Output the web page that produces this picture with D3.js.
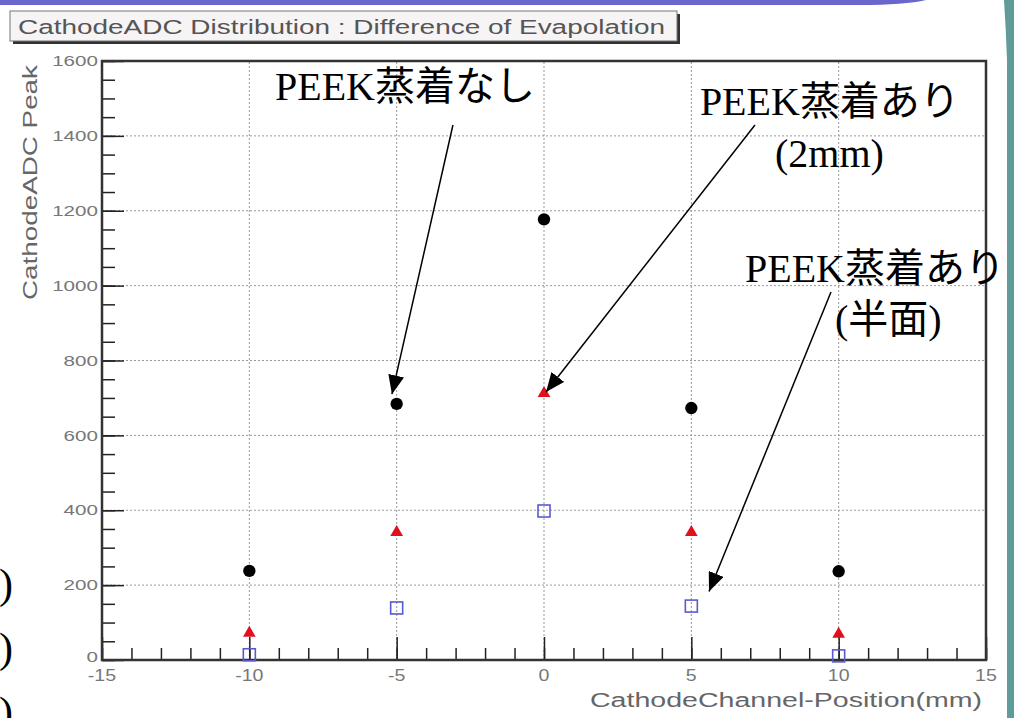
<!DOCTYPE html>
<html>
<head>
<meta charset="utf-8">
<script src="https://d3js.org/d3.v7.min.js"></script>
<style>
  body { margin: 0; background: #fff; }
  svg { display: block; }
</style>
</head>
<body>
<svg id="chart"></svg>
<script>
// values
var positions = [-10, -5, 0, 5, 10]
var noEvap = [238, 684, 1177, 673, 237]      // PEEK蒸着なし, black dots
var evap2mm = [72, 341, 712, 341, 69]        // PEEK蒸着あり (2mm), red triangles
var evapHalf = [14, 139, 398, 144, 11]       // PEEK蒸着あり (半面), blue open squares

var yTicks = [0, 200, 400, 600, 800, 1000, 1200, 1400, 1600]
var xTicks = [-15, -10, -5, 0, 5, 10, 15]

var titleText = "CathodeADC Distribution : Difference of Evapolation"
var xTitle = "CathodeChannel-Position(mm)"
var yTitle = "CathodeADC Peak"

// annotation texts, placed in data units
var notes = [
  {lines: ["PEEK蒸着なし"], at: [[-9.13, 1496]], from: [-3.09, 1429], to: [-5.16, 710]},
  {lines: ["PEEK蒸着あり", "(2mm)"], at: [[5.29, 1456], [7.84, 1317]], from: [7.16, 1429], to: [0.07, 716]},
  {lines: ["PEEK蒸着あり", "(半面)"], at: [[6.82, 1010], [9.875, 873]], from: [9.74, 983], to: [5.6, 183]}
]

var width = 1014
var height = 718

var dimensions = {
  margin: {top: 61, bottom: 58, left: 102, right: 28}
}

var svg = d3.select("#chart")
  .attr("width", width)
  .attr("height", height)

var xScale = d3.scaleLinear()
  .domain([-15, 15])
  .range([dimensions.margin.left, width - dimensions.margin.right])

var yScale = d3.scaleLinear()
  .domain([0, 1600])
  .range([height - dimensions.margin.bottom, dimensions.margin.top])

var x0 = xScale.range()[0], x1 = xScale.range()[1]
var y0 = yScale.range()[0], y1 = yScale.range()[1]

function stretch(sel, k) {
  sel.each(function() {
    var w = this.getComputedTextLength()
    d3.select(this).attr("textLength", w * k).attr("lengthAdjust", "spacingAndGlyphs")
  })
}

// slide decoration: purple band on top, teal bar on the right
svg.append("path")
  .attr("d", "M0,0 H926 Q905,5 860,5 H0 Z")
  .attr("fill", "#6a66cc")
svg.append("path")
  .attr("d", "M1004,0 Q1006,30 1007,60 V718 H1014 V0 Z")
  .attr("fill", "#5f9b98")

// cut off ")" from the slide text on the left
svg.selectAll(".paren")
  .data([598, 662, 726])
  .enter().append("text")
  .attr("x", -1)
  .attr("y", d => d)
  .attr("font-family", "Liberation Serif, serif")
  .attr("font-size", 42)
  .attr("fill", "#000")
  .text(")")

// title box
svg.append("rect")
  .attr("x", 13).attr("y", 14)
  .attr("width", 667).attr("height", 30)
  .attr("fill", "#333")
svg.append("rect")
  .attr("x", 10).attr("y", 11)
  .attr("width", 667).attr("height", 30)
  .attr("fill", "#f6f4f4")
  .attr("stroke", "#777")
  .attr("stroke-width", 1)
svg.append("text")
  .attr("x", 18)
  .attr("y", 34)
  .attr("font-family", "Liberation Sans, Arial, sans-serif")
  .attr("font-size", 20)
  .attr("fill", "#555")
  .attr("textLength", 647)
  .attr("lengthAdjust", "spacingAndGlyphs")
  .text(titleText)

// plot background
svg.append("rect")
  .attr("x", x0).attr("y", y1)
  .attr("width", x1 - x0).attr("height", y0 - y1)
  .attr("fill", "#fff")

// dotted grid at major ticks
svg.append("g")
  .selectAll("line")
  .data(xTicks.slice(1, -1))
  .enter().append("line")
  .attr("x1", d => xScale(d)).attr("x2", d => xScale(d))
  .attr("y1", y0).attr("y2", y1)
  .attr("stroke", "#999")
  .attr("stroke-dasharray", "2,2")
svg.append("g")
  .selectAll("line")
  .data(yTicks.slice(1, -1))
  .enter().append("line")
  .attr("x1", x0).attr("x2", x1)
  .attr("y1", d => yScale(d)).attr("y2", d => yScale(d))
  .attr("stroke", "#999")
  .attr("stroke-dasharray", "2,2")

// axes, ticks drawn inward
var xAxisGen = d3.axisTop(xScale)
  .tickValues(d3.range(-15, 16, 1))
  .tickSize(12)
  .tickFormat("")
var xAxis = svg.append("g")
  .call(xAxisGen)
  .attr("transform", `translate(0,${y0})`)
var xMajor = svg.append("g")
  .call(d3.axisTop(xScale).tickValues(xTicks).tickSize(23).tickFormat(""))
  .attr("transform", `translate(0,${y0})`)

var yAxisGen = d3.axisRight(yScale)
  .tickValues(d3.range(0, 1601, 50))
  .tickSize(13)
  .tickFormat("")
var yAxis = svg.append("g")
  .call(yAxisGen)
  .attr("transform", `translate(${x0},0)`)
var yMajor = svg.append("g")
  .call(d3.axisRight(yScale).tickValues(yTicks).tickSize(22).tickFormat(""))
  .attr("transform", `translate(${x0},0)`)

svg.selectAll(".domain").remove()
svg.selectAll(".tick line")
  .attr("stroke", "#222")
  .attr("stroke-width", 1.5)

// frame
svg.append("rect")
  .attr("x", x0).attr("y", y1)
  .attr("width", x1 - x0).attr("height", y0 - y1)
  .attr("fill", "none")
  .attr("stroke", "#333")
  .attr("stroke-width", 2.5)

// tick labels
svg.append("g")
  .selectAll("text")
  .data(yTicks)
  .enter().append("text")
  .attr("x", x0 - 4)
  .attr("y", d => yScale(d) - (d == 0 ? 3 : 0))
  .attr("dy", "0.36em")
  .attr("text-anchor", "end")
  .attr("font-family", "Liberation Sans, Arial, sans-serif")
  .attr("font-size", 14.5)
  .attr("fill", "#777")
  .text(d => d)
  .call(stretch, 1.42)

svg.append("g")
  .selectAll("text")
  .data(xTicks)
  .enter().append("text")
  .attr("x", d => xScale(d))
  .attr("y", y0 + 21)
  .attr("text-anchor", "middle")
  .attr("font-family", "Liberation Sans, Arial, sans-serif")
  .attr("font-size", 17)
  .attr("fill", "#777")
  .text(d => d)
  .call(stretch, 1.15)

// axis titles
svg.append("text")
  .attr("x", 982)
  .attr("y", 707)
  .attr("text-anchor", "end")
  .attr("font-family", "Liberation Sans, Arial, sans-serif")
  .attr("font-size", 20)
  .attr("fill", "#666")
  .attr("textLength", 392)
  .attr("lengthAdjust", "spacingAndGlyphs")
  .text(xTitle)

svg.append("text")
  .attr("transform", "translate(37,300) rotate(-90)")
  .attr("x", 0)
  .attr("y", 0)
  .attr("font-family", "Liberation Sans, Arial, sans-serif")
  .attr("font-size", 20)
  .attr("fill", "#666")
  .attr("textLength", 235)
  .attr("lengthAdjust", "spacingAndGlyphs")
  .text(yTitle)

// data points
var circles = svg.append("g")
  .selectAll("path")
  .data(positions.map((p, i) => [p, noEvap[i]]))
  .enter().append("path")
  .attr("transform", d => `translate(${xScale(d[0])},${yScale(d[1])})`)
  .attr("d", d3.symbol(d3.symbolCircle, 120))
  .attr("fill", "#000")

var triangles = svg.append("g")
  .selectAll("path")
  .data(positions.map((p, i) => [p, evap2mm[i]]))
  .enter().append("path")
  .attr("transform", d => `translate(${xScale(d[0])},${yScale(d[1])})`)
  .attr("d", d3.symbol(d3.symbolTriangle, 70))
  .attr("fill", "#e0101c")

var squares = svg.append("g")
  .selectAll("rect")
  .data(positions.map((p, i) => [p, evapHalf[i]]))
  .enter().append("rect")
  .attr("x", d => xScale(d[0]) - 6)
  .attr("y", d => yScale(d[1]) - 6)
  .attr("width", 12)
  .attr("height", 12)
  .attr("fill", "none")
  .attr("stroke", "#5a5ad0")
  .attr("stroke-width", 1.6)

// annotations with arrows
svg.append("defs").append("marker")
  .attr("id", "head")
  .attr("markerUnits", "userSpaceOnUse")
  .attr("viewBox", "0 -8 19 16")
  .attr("refX", 19)
  .attr("refY", 0)
  .attr("markerWidth", 19)
  .attr("markerHeight", 16)
  .attr("orient", "auto")
  .append("path")
  .attr("d", "M0,-8 L19,0 L0,8 Z")
  .attr("fill", "#000")

var noteGroups = svg.append("g")
  .selectAll("g")
  .data(notes)
  .enter().append("g")

noteGroups.append("line")
  .attr("x1", d => xScale(d.from[0]))
  .attr("y1", d => yScale(d.from[1]))
  .attr("x2", d => xScale(d.to[0]))
  .attr("y2", d => yScale(d.to[1]))
  .attr("stroke", "#000")
  .attr("stroke-width", 1.5)
  .attr("marker-end", "url(#head)")

noteGroups.each(function(d) {
  d3.select(this).selectAll("text")
    .data(d.lines.map((t, i) => [t, d.at[i]]))
    .enter().append("text")
    .attr("x", e => xScale(e[1][0]))
    .attr("y", e => yScale(e[1][1]))
    .attr("font-family", "Liberation Serif, 'Noto Sans CJK JP', serif")
    .attr("font-size", 40)
    .attr("fill", "#000")
    .text(e => e[0])
})
</script>
</body>
</html>
